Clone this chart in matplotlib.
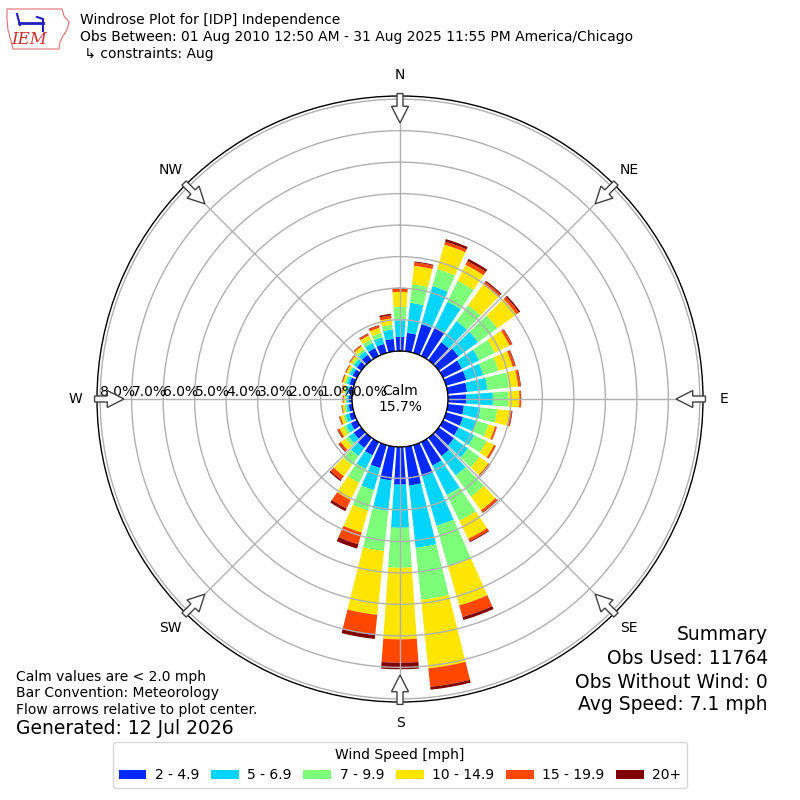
import numpy as np
import matplotlib
matplotlib.use("Agg")
import matplotlib.pyplot as plt
from matplotlib.patches import FancyArrow, Polygon

# direction bins (deg, wind from), 10 deg wide
directions = np.arange(0, 360, 10)

# percent of observations in each speed bin, by direction (N, 10, 20 ... 350)
spd_2_5 = [0.45, 0.59, 0.95, 1.00, 0.71, 0.78, 0.67, 0.67, 0.62, 0.59, 0.52, 0.56,
           0.55, 0.60, 0.72, 0.83, 1.04, 1.24, 1.20, 1.08, 0.76, 0.47, 0.40, 0.30,
           0.22, 0.16, 0.12, 0.10, 0.12, 0.15, 0.16, 0.18, 0.22, 0.28, 0.30, 0.40]
spd_5_7 = [0.53, 0.96, 1.26, 0.92, 0.83, 0.77, 0.61, 0.56, 0.65, 0.84, 0.53, 0.44,
           0.55, 0.55, 0.76, 1.04, 1.63, 1.99, 1.37, 0.97, 0.73, 0.48, 0.32, 0.20,
           0.16, 0.12, 0.08, 0.07, 0.08, 0.09, 0.10, 0.11, 0.14, 0.18, 0.22, 0.30]
spd_7_10 = [0.42, 0.59, 0.56, 0.73, 0.62, 0.75, 0.55, 0.50, 0.69, 0.50, 0.53, 0.40,
            0.43, 0.45, 0.83, 0.91, 1.34, 1.66, 1.27, 1.28, 0.67, 0.49, 0.35, 0.12,
            0.10, 0.07, 0.05, 0.04, 0.05, 0.06, 0.05, 0.07, 0.08, 0.12, 0.14, 0.15]
spd_10_15 = [0.48, 0.59, 0.81, 0.57, 0.82, 0.75, 0.52, 0.47, 0.29, 0.34, 0.40, 0.22,
             0.27, 0.35, 0.54, 0.64, 1.29, 2.19, 2.27, 2.04, 0.73, 0.61, 0.44, 0.18,
             0.14, 0.10, 0.07, 0.06, 0.07, 0.07, 0.07, 0.08, 0.11, 0.15, 0.17, 0.20]
spd_15_20 = [0.10, 0.11, 0.10, 0.13, 0.10, 0.10, 0.08, 0.08, 0.07, 0.05, 0.07, 0.05,
             0.06, 0.06, 0.08, 0.09, 0.38, 0.59, 0.74, 0.64, 0.39, 0.30, 0.14, 0.07,
             0.06, 0.04, 0.02, 0.02, 0.02, 0.03, 0.03, 0.03, 0.04, 0.05, 0.07, 0.10]
spd_20p = [0.03, 0.03, 0.08, 0.08, 0.04, 0.05, 0.02, 0.02, 0.02, 0.01, 0.02, 0.01,
           0.01, 0.02, 0.02, 0.03, 0.10, 0.09, 0.21, 0.13, 0.14, 0.09, 0.05, 0.03,
           0.02, 0.01, 0.01, 0.01, 0.01, 0.01, 0.01, 0.01, 0.01, 0.02, 0.02, 0.05]

speed_bins = [spd_2_5, spd_5_7, spd_7_10, spd_10_15, spd_15_20, spd_20p]
speed_labels = ["2 - 4.9", "5 - 6.9", "7 - 9.9", "10 - 14.9", "15 - 19.9", "20+"]
rings = [0, 1, 2, 3, 4, 5, 6, 7, 8]
calm_pct = 15.7
compass = ["N", "NE", "E", "SE", "S", "SW", "W", "NW"]

colors = plt.cm.jet(np.arange(1, 7) / 6.0)

fig = plt.figure(figsize=(8, 8), dpi=100)
ax = fig.add_axes([97 / 800, 98 / 800, 606 / 800, 606 / 800], projection="polar")
ax.set_theta_zero_location("N")
ax.set_theta_direction(-1)
ax.set_rorigin(-1.52)
ax.set_ylim(0, 8.1)

theta = np.deg2rad(directions)
width = np.deg2rad(10) * 0.8
bottom = np.zeros(len(directions))
handles = []
for vals, col, lab in zip(speed_bins, colors, speed_labels):
    vals = np.array(vals)
    b = ax.bar(theta, vals, width=width, bottom=bottom, color=col, label=lab,
               linewidth=0)
    handles.append(b)
    bottom = bottom + vals

# grid
ax.set_thetagrids(np.arange(0, 360, 45), [""] * 8)
ax.set_rgrids(rings[1:], [""] * 8)
ax.grid(True, color="#b0b0b0", lw=1)
ax.spines["polar"].set_linewidth(1)

# calm circle
tt = np.linspace(0, 2 * np.pi, 300)
ax.plot(tt, np.zeros_like(tt), color="k", lw=1)
ax.text(0.5, 0.5, "Calm\n%.1f%%" % calm_pct, transform=ax.transAxes,
        ha="center", va="center", fontsize=10)

# ring labels on the west axis
for r in rings:
    ax.text(np.deg2rad(270), r, "%.1f%%" % r, ha="left", va="bottom", fontsize=10)

# compass labels and flow arrows
for i, name in enumerate(compass):
    a = np.deg2rad(i * 45)
    ux, uy = np.sin(a), np.cos(a)
    ax.text(0.5 + 0.535 * ux, 0.5 + 0.535 * uy, name, transform=ax.transAxes,
            ha="center", va="center", fontsize=10)
    arr = FancyArrow(0.5 + 0.504 * ux, 0.5 + 0.504 * uy, -0.0485 * ux, -0.0485 * uy,
                     width=0.0099, head_width=0.028, head_length=0.0275,
                     length_includes_head=True, transform=ax.transAxes,
                     fc="white", ec="#404040", lw=1, clip_on=False, zorder=5)
    ax.add_patch(arr)

# header
fig.text(0.1, 1 - 20 / 800, "Windrose Plot for [IDP] Independence", fontsize=10, va="center")
fig.text(0.1, 1 - 37 / 800, "Obs Between: 01 Aug 2010 12:50 AM - 31 Aug 2025 11:55 PM America/Chicago",
         fontsize=10, va="center")
fig.text(0.1, 1 - 54 / 800, " \u21b3 constraints: Aug", fontsize=10, va="center")

# logo
lax = fig.add_axes([5 / 800, 1 - 50 / 800, 65 / 800, 45 / 800])
lax.set_xlim(0, 65)
lax.set_ylim(45, 0)
lax.axis("off")
lax.add_patch(Polygon([(2, 4), (57, 4), (59, 11), (64, 17), (62, 25), (58, 31),
                       (55, 37), (54, 44), (8, 44), (6, 36), (3, 25), (2, 14)],
                      closed=True, fill=False, ec="#e07070", lw=0.8))
lax.plot([14, 38], [18, 18], color="#2020c0", lw=2)
lax.plot([12, 15], [9, 20], color="#2020c0", lw=1.5)
lax.plot([32, 38, 38], [12, 14, 26], color="#2020c0", lw=1.5)
lax.text(24, 35, "IEM", color="#d03030", fontsize=12, style="italic",
         family="DejaVu Serif", ha="center", va="center")

# footer notes
fig.text(0.02, 1 - 677 / 800, "Calm values are < 2.0 mph", fontsize=10, va="center")
fig.text(0.02, 1 - 693 / 800, "Bar Convention: Meteorology", fontsize=10, va="center")
fig.text(0.02, 1 - 710 / 800, "Flow arrows relative to plot center.", fontsize=10, va="center")
fig.text(0.02, 1 - 729 / 800, "Generated: 12 Jul 2026", fontsize=13.5, va="center")

fig.text(0.96, 1 - 635 / 800, "Summary", fontsize=13.5, ha="right", va="center")
fig.text(0.96, 1 - 659 / 800, "Obs Used: 11764", fontsize=13.5, ha="right", va="center")
fig.text(0.96, 1 - 682 / 800, "Obs Without Wind: 0", fontsize=13.5, ha="right", va="center")
fig.text(0.96, 1 - 705 / 800, "Avg Speed: 7.1 mph", fontsize=13.5, ha="right", va="center")

ax.legend(handles, speed_labels, loc="center", bbox_to_anchor=(0.5, 1 - 765 / 800),
          bbox_transform=fig.transFigure, ncol=6, fontsize=10,
          title="Wind Speed [mph]", title_fontsize=10,
          columnspacing=0.85, handletextpad=0.6)

fig.savefig("out.png", dpi=100)
